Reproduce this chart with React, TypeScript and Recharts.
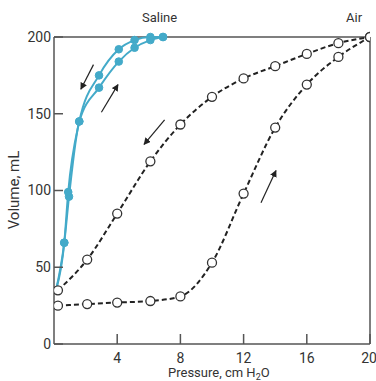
import { LineChart, Line, XAxis, YAxis, ReferenceLine } from 'recharts';

const xTicks = [4, 8, 12, 16, 20];
const yTicks = [0, 50, 100, 150, 200];

// saline curves, both start at the same point near the origin
const salineInflation = [
  { x: 0.15, y: 36 },
  { x: 0.65, y: 66 },
  { x: 0.95, y: 96 },
  { x: 1.6, y: 145 },
  { x: 2.85, y: 167 },
  { x: 4.1, y: 184 },
  { x: 5.1, y: 193 },
  { x: 6.1, y: 198 },
  { x: 6.9, y: 200 },
];
const salineDeflation = [
  { x: 0.15, y: 36 },
  { x: 0.65, y: 66 },
  { x: 0.9, y: 99 },
  { x: 1.6, y: 145 },
  { x: 2.85, y: 175 },
  { x: 4.1, y: 192 },
  { x: 5.1, y: 198 },
  { x: 6.1, y: 200 },
  { x: 6.9, y: 200 },
];

const airInflation = [
  { x: 0.25, y: 25 },
  { x: 2.1, y: 26 },
  { x: 4, y: 27 },
  { x: 6.1, y: 28 },
  { x: 8, y: 31 },
  { x: 10, y: 53 },
  { x: 12, y: 98 },
  { x: 14, y: 141 },
  { x: 16, y: 169 },
  { x: 18, y: 187 },
  { x: 20, y: 200 },
];
const airDeflation = [
  { x: 0.25, y: 35 },
  { x: 2.1, y: 55 },
  { x: 4, y: 85 },
  { x: 6.1, y: 119 },
  { x: 8, y: 143 },
  { x: 10, y: 161 },
  { x: 12, y: 173 },
  { x: 14, y: 181 },
  { x: 16, y: 189 },
  { x: 18, y: 196 },
  { x: 20, y: 200 },
];

// direction arrows [from, to]
const arrows = [
  [{ x: 2.5, y: 182 }, { x: 1.7, y: 166 }],
  [{ x: 3.0, y: 151 }, { x: 4.05, y: 169 }],
  [{ x: 7.0, y: 146 }, { x: 5.7, y: 130 }],
  [{ x: 13.1, y: 92 }, { x: 14.05, y: 113 }],
];

const BLUE = '#43aac9';
const AXIS = '#555';
const font = 'Roboto, "Open Sans", sans-serif';

const SalineDot = (props: any) => {
  const { cx, cy, index } = props;
  if (index === 0) return <g key={index} />;
  return <circle key={index} cx={cx} cy={cy} r={3.8} fill={BLUE} stroke={BLUE} />;
};

export default function App() {
  return (
    <div style={{ position: 'absolute', left: 0, top: 0, width: 376, height: 381, background: '#fff', fontFamily: font }}>
      <svg width={0} height={0} style={{ position: 'absolute' }}>
        <defs>
          <marker id="arrowHead" viewBox="0 0 10 10" refX="9" refY="5" markerWidth="7" markerHeight="7" orient="auto" markerUnits="userSpaceOnUse">
            <path d="M0,0 L10,5 L0,10 z" fill="#222" />
          </marker>
        </defs>
      </svg>
      <LineChart width={376} height={381} margin={{ top: 37, right: 6, left: 0, bottom: 0 }}>
        <XAxis
          type="number"
          dataKey="x"
          domain={[0, 20]}
          ticks={xTicks}
          allowDataOverflow
          height={37}
          tickSize={-10}
          tickMargin={19}
          axisLine={{ stroke: AXIS, strokeWidth: 1.5 }}
          tickLine={{ stroke: AXIS, strokeWidth: 1.5 }}
          tick={{ fill: '#333', fontSize: 14, fontFamily: font }}
        />
        <YAxis
          type="number"
          dataKey="y"
          domain={[0, 200]}
          ticks={yTicks}
          width={54}
          tickSize={-9}
          tickMargin={12}
          axisLine={{ stroke: AXIS, strokeWidth: 1.5 }}
          tickLine={{ stroke: AXIS, strokeWidth: 1.5 }}
          tick={{ fill: '#333', fontSize: 14, fontFamily: font }}
        />
        <ReferenceLine y={200} stroke={AXIS} strokeWidth={1.5} />
        <ReferenceLine x={20} stroke={AXIS} strokeWidth={1.5} />
        {arrows.map((a, i) => (
          <ReferenceLine key={i} segment={a} stroke="#222" strokeWidth={1.2} markerEnd="url(#arrowHead)" />
        ))}
        <Line
          data={airInflation}
          dataKey="y"
          type="monotone"
          stroke="#222"
          strokeWidth={2}
          strokeDasharray="5 3"
          dot={{ r: 4.5, fill: '#fff', stroke: '#333', strokeWidth: 1.3, strokeDasharray: '' }}
          isAnimationActive={false}
        />
        <Line
          data={airDeflation}
          dataKey="y"
          type="monotone"
          stroke="#222"
          strokeWidth={2}
          strokeDasharray="5 3"
          dot={{ r: 4.5, fill: '#fff', stroke: '#333', strokeWidth: 1.3, strokeDasharray: '' }}
          isAnimationActive={false}
        />
        <Line
          data={salineInflation}
          dataKey="y"
          type="monotone"
          stroke={BLUE}
          strokeWidth={2}
          dot={SalineDot}
          isAnimationActive={false}
        />
        <Line
          data={salineDeflation}
          dataKey="y"
          type="monotone"
          stroke={BLUE}
          strokeWidth={2}
          dot={SalineDot}
          isAnimationActive={false}
        />
      </LineChart>
      <div style={{ position: 'absolute', left: 142, top: 10, fontSize: 13, color: '#333' }}>Saline</div>
      <div style={{ position: 'absolute', left: 346, top: 10, fontSize: 13, color: '#333' }}>Air</div>
      <div style={{ position: 'absolute', left: 168, top: 366, fontSize: 13, lineHeight: '14px', color: '#333', whiteSpace: 'nowrap' }}>
        Pressure, cm H<span style={{ fontSize: 9, position: 'relative', top: 3 }}>2</span>O
      </div>
      <div
        style={{
          position: 'absolute',
          left: 14,
          top: 190,
          fontSize: 15,
          color: '#333',
          whiteSpace: 'nowrap',
          transform: 'translate(-50%, -50%) rotate(-90deg)',
        }}
      >
        Volume, mL
      </div>
    </div>
  );
}
